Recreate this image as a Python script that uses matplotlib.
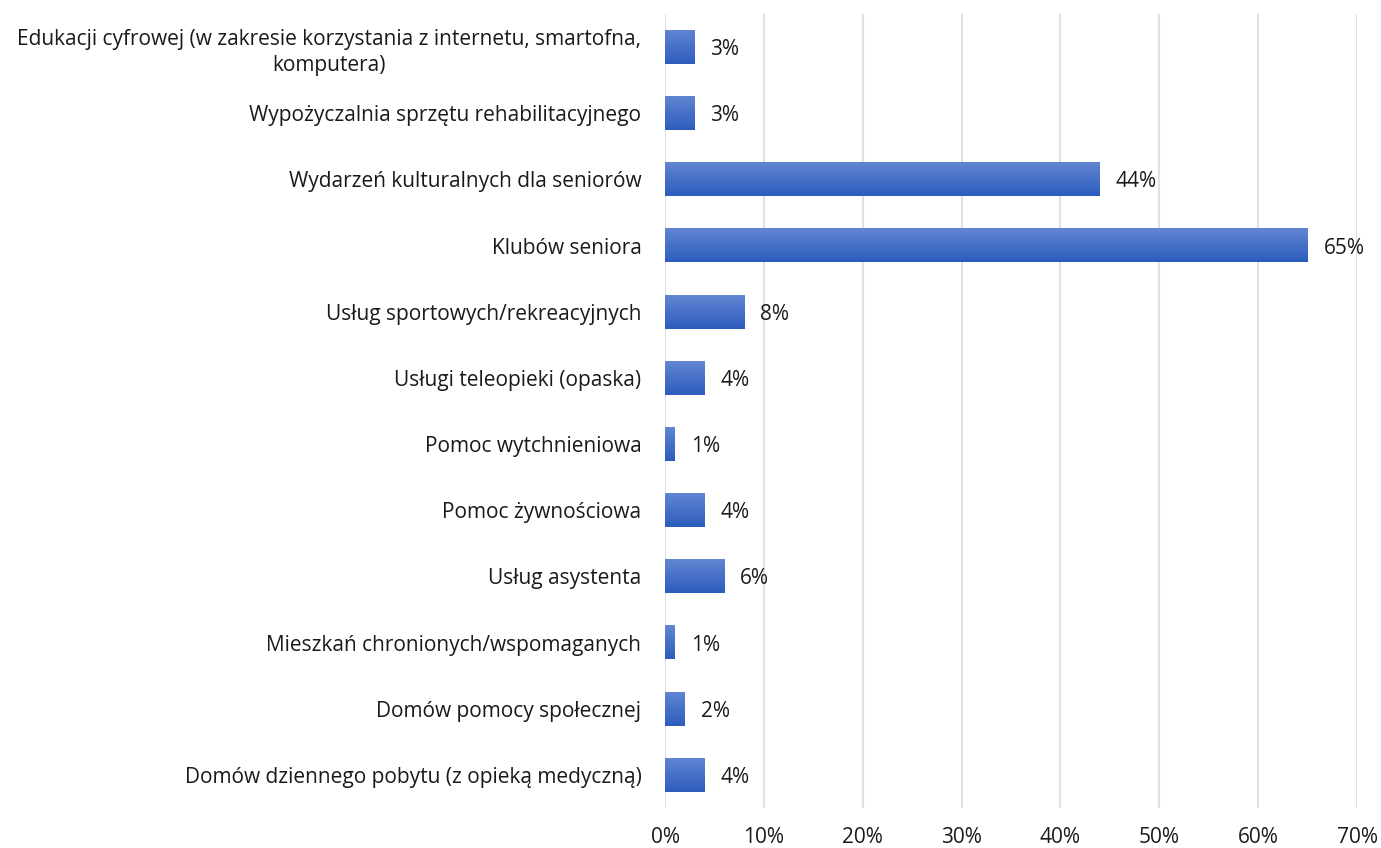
"""Horizontal bar chart of requested senior services."""

import matplotlib.pyplot as plt
import numpy as np
from matplotlib.colors import LinearSegmentedColormap
from matplotlib.ticker import PercentFormatter

categories = [
    "Edukacji cyfrowej (w zakresie korzystania z internetu, smartofna,\nkomputera)",
    "Wypożyczalnia sprzętu rehabilitacyjnego",
    "Wydarzeń kulturalnych dla seniorów",
    "Klubów seniora",
    "Usług sportowych/rekreacyjnych",
    "Usługi teleopieki (opaska)",
    "Pomoc wytchnieniowa",
    "Pomoc żywnościowa",
    "Usług asystenta",
    "Mieszkań chronionych/wspomaganych",
    "Domów pomocy społecznej",
    "Domów dziennego pobytu (z opieką medyczną)",
]
values = [3, 3, 44, 65, 8, 4, 1, 4, 6, 1, 2, 4]
x_ticks = [0, 10, 20, 30, 40, 50, 60, 70]

plt.rcParams["font.family"] = ["Open Sans", "DejaVu Sans"]
FS = 15

fig = plt.figure(figsize=(13.81, 8.48), dpi=100)
ax = fig.add_axes([665 / 1381, 40 / 848, 692 / 1381, 794 / 848])

y = np.arange(len(categories))
bars = ax.barh(y, values, height=0.51, color="none", zorder=2)

# vertical gradient like the original fill
cmap = LinearSegmentedColormap.from_list("bar", ["#6185d2", "#2c5dbd"])
grad = np.linspace(0, 1, 64).reshape(-1, 1)
for bar in bars:
    x0, y0 = bar.get_x(), bar.get_y()
    w, h = bar.get_width(), bar.get_height()
    ax.imshow(grad, cmap=cmap, aspect="auto", extent=(x0, x0 + w, y0 + h, y0),
              zorder=2, interpolation="bilinear")

for yi, v in zip(y, values):
    ax.text(v + 1.6, yi, f"{v}%", va="center_baseline", ha="left", fontsize=FS,
            color="#1a1a1a")

ax.set_ylim(len(categories) - 0.5, -0.5)
ax.set_xlim(0, 70)
ax.set_xticks(x_ticks)
ax.xaxis.set_major_formatter(PercentFormatter(decimals=0))
ax.set_yticks(y)
ax.set_yticklabels(categories, fontsize=FS, color="#1a1a1a",
                   multialignment="center", linespacing=1.35)
ax.tick_params(axis="both", length=0, labelsize=FS, labelcolor="#1a1a1a")
ax.tick_params(axis="x", pad=14)
ax.tick_params(axis="y", pad=17)
ax.grid(axis="x", color="#dde1e8", linewidth=1.5, zorder=0)
ax.set_axisbelow(True)
for spine in ax.spines.values():
    spine.set_visible(False)

fig.savefig("out.png", dpi=100)
